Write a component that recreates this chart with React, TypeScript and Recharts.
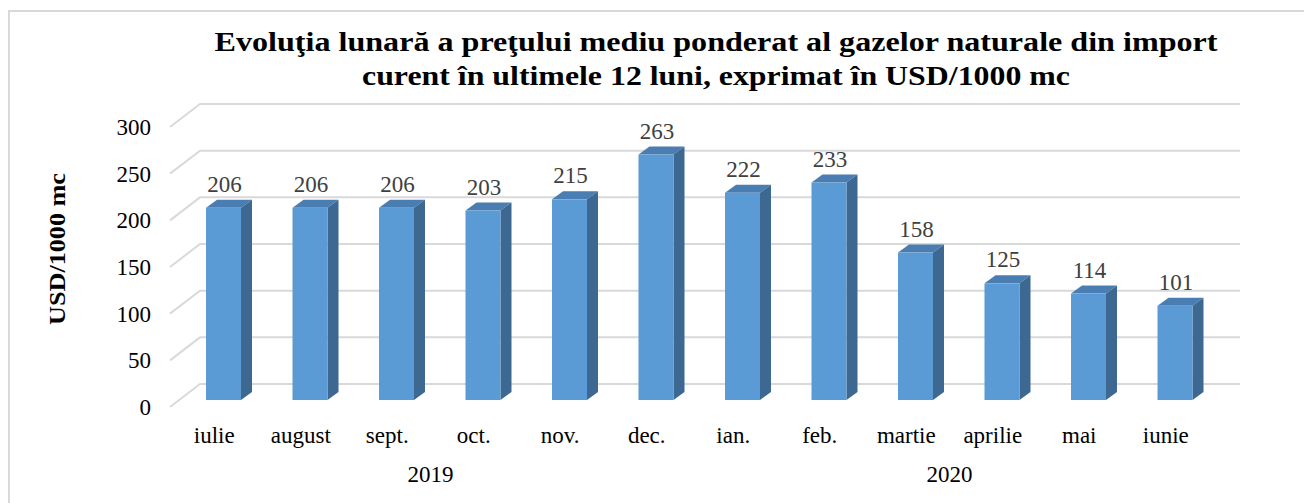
import React from "react";
import {
  BarChart,
  Bar,
  XAxis,
  YAxis,
  CartesianGrid,
  LabelList,
} from "recharts";

const MONTHS = [
  "iulie",
  "august",
  "sept.",
  "oct.",
  "nov.",
  "dec.",
  "ian.",
  "feb.",
  "martie",
  "aprilie",
  "mai",
  "iunie",
];
const PRICES = [206, 206, 206, 203, 215, 263, 222, 233, 158, 125, 114, 101];
const YEARS = ["2019", "2020"];
const YEAR_RANGES: [number, number][] = [
  [0, 5],
  [6, 11],
];
const Y_TICKS = [0, 50, 100, 150, 200, 250, 300];

const TITLE_1 =
  "Evoluţia lunară a preţului mediu ponderat al gazelor naturale din import";
const TITLE_2 = "curent în ultimele 12 luni, exprimat în USD/1000 mc";
const Y_TITLE = "USD/1000 mc";

const data = MONTHS.map((m, i) => ({ month: m, idx: i, price: PRICES[i] }));
const yearTicks = YEAR_RANGES.map(([a, b]) => (a + b) / 2);

const FONT = "'Liberation Serif', 'Times New Roman', serif";
const FRONT = "#5b9bd5";
const TOP = "#4a7db1";
const SIDE = "#3d6891";
const GRID = "#d9d9d9";
const DX = 11;
const DY = 8;

function Bar3D(props: any) {
  const { x, y, width, height } = props;
  if (height == null || height <= 0) return null;
  const r = x + width;
  const b = y + height;
  return (
    <g>
      <polygon
        points={`${x},${y} ${x + DX},${y - DY} ${r + DX},${y - DY} ${r},${y}`}
        fill={TOP}
      />
      <polygon
        points={`${r},${y} ${r + DX},${y - DY} ${r + DX},${b - DY} ${r},${b}`}
        fill={SIDE}
      />
      <rect x={x} y={y} width={width} height={height} fill={FRONT} />
    </g>
  );
}

function gridLine(props: any) {
  const { x1, x2, y1, index } = props;
  return (
    <g key={`g-${index}-${y1}`}>
      <polyline
        points={`${x1 - 10},${y1 + 7} ${x1 + 20},${y1 - 16} ${x2 + 22},${y1 - 16}`}
        fill="none"
        stroke={GRID}
        strokeWidth={2}
      />
    </g>
  );
}

function YTick(props: any) {
  const { y, payload } = props;
  return (
    <text
      x={151}
      y={y + 15}
      textAnchor="end"
      fontFamily={FONT}
      fontSize={23}
      fill="#000"
    >
      {payload.value}
    </text>
  );
}

function MonthTick(props: any) {
  const { x, y, payload } = props;
  return (
    <text
      x={x - 9}
      y={y + 43}
      textAnchor="middle"
      fontFamily={FONT}
      fontSize={23}
      fill="#000"
    >
      {payload.value}
    </text>
  );
}

function YearTick(props: any) {
  const { x, y, payload } = props;
  const i = yearTicks.indexOf(payload.value);
  return (
    <text
      x={x - 9}
      y={y + 42}
      textAnchor="middle"
      fontFamily={FONT}
      fontSize={23}
      fill="#000"
    >
      {YEARS[i] ?? ""}
    </text>
  );
}

function ValueLabel(props: any) {
  const { x, y, width, value } = props;
  return (
    <text
      x={x + width / 2 + 1}
      y={y - 16}
      textAnchor="middle"
      fontFamily={FONT}
      fontSize={23}
      fill="#404040"
    >
      {value}
    </text>
  );
}

export default function App() {
  return (
    <div
      style={{
        position: "fixed",
        left: 0,
        top: 0,
        width: 1304,
        height: 503,
        overflow: "hidden",
        background: "#fff",
      }}
    >
      <div
        style={{
          position: "absolute",
          left: 8,
          top: 10,
          width: 1400,
          height: 600,
          border: `2px solid ${GRID}`,
        }}
      />
      <div style={{ position: "absolute", left: 0, top: 0 }}>
        <BarChart
          width={1304}
          height={503}
          data={data}
          margin={{ top: 120, right: 86, bottom: 23, left: 140 }}
        >
          <CartesianGrid vertical={false} horizontal={gridLine} />
          <YAxis
            domain={[0, 300]}
            ticks={Y_TICKS}
            width={40}
            axisLine={false}
            tickLine={false}
            tick={<YTick />}
          />
          <XAxis
            dataKey="month"
            axisLine={false}
            tickLine={false}
            tickSize={0}
            tickMargin={0}
            height={40}
            interval={0}
            tick={<MonthTick />}
          />
          <XAxis
            xAxisId="year"
            dataKey="idx"
            type="number"
            domain={[-0.5, 11.5]}
            ticks={yearTicks}
            axisLine={false}
            tickLine={false}
            tickSize={0}
            tickMargin={0}
            height={40}
            tick={<YearTick />}
          />
          <Bar
            dataKey="price"
            barSize={35}
            shape={<Bar3D />}
            isAnimationActive={false}
          >
            <LabelList dataKey="price" content={<ValueLabel />} />
          </Bar>
        </BarChart>
      </div>
      <svg
        width={1304}
        height={503}
        style={{ position: "absolute", left: 0, top: 0, pointerEvents: "none" }}
      >
        <text
          x={716}
          y={51}
          textAnchor="middle"
          fontFamily={FONT}
          fontSize={27}
          fontWeight="bold"
          fill="#000"
          textLength={1003}
          lengthAdjust="spacingAndGlyphs"
        >
          {TITLE_1}
        </text>
        <text
          x={716}
          y={85}
          textAnchor="middle"
          fontFamily={FONT}
          fontSize={27}
          fontWeight="bold"
          fill="#000"
          textLength={708}
          lengthAdjust="spacingAndGlyphs"
        >
          {TITLE_2}
        </text>
        <text
          x={0}
          y={0}
          transform="translate(65,249) rotate(-90)"
          textAnchor="middle"
          fontFamily={FONT}
          fontSize={23}
          fontWeight="bold"
          fill="#000"
          textLength={152}
          lengthAdjust="spacingAndGlyphs"
        >
          {Y_TITLE}
        </text>
      </svg>
    </div>
  );
}
